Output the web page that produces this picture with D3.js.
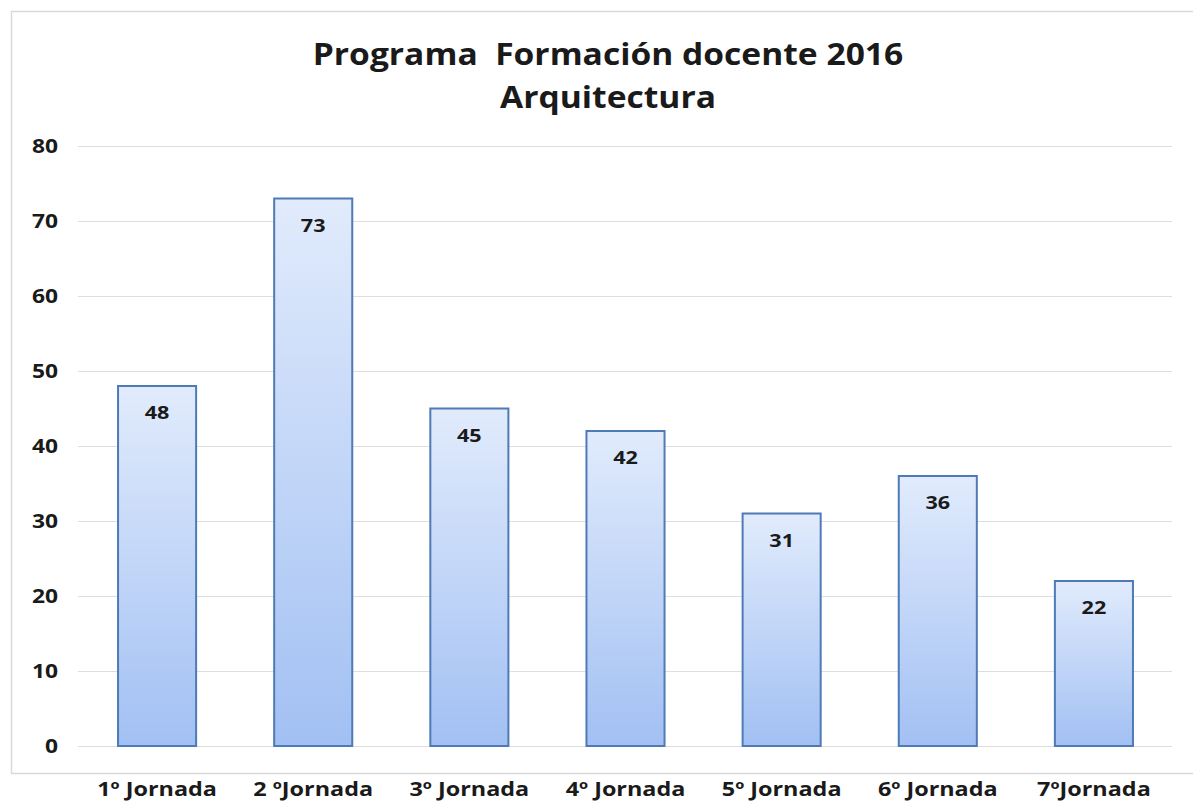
<!DOCTYPE html>
<html>
<head>
<meta charset="utf-8">
<script src="https://cdn.jsdelivr.net/npm/d3@7"></script>
<style>
  body { margin: 0; background: #fff; }
  text { font-family: "Open Sans", "DejaVu Sans", sans-serif; font-weight: bold; fill: #1a1a1a; white-space: pre; }
</style>
</head>
<body>
<div id="chart"></div>
<script>
// Programa Formación docente 2016 - Arquitectura

var categories = ["1º Jornada", "2 ºJornada", "3º Jornada", "4º Jornada", "5º Jornada", "6º Jornada", "7ºJornada"];
var values = [48, 73, 45, 42, 31, 36, 22];
var yTicks = [0, 10, 20, 30, 40, 50, 60, 70, 80];
var titleLines = ["Programa  Formación docente 2016", "Arquitectura"];

var WIDTH = 1193;
var HEIGHT = 802;

var LEFT = 79;
var RIGHT = 1172;
var TOP = 146;
var BOTTOM = 746;

// the source picture is a bit stretched sideways
var STRETCH = "scale(1.2,1)";

var svg = d3.select("#chart").append("svg")
    .attr("width", WIDTH)
    .attr("height", HEIGHT);

var defs = svg.append("defs");
var grad = defs.append("linearGradient")
    .attr("id", "barfill")
    .attr("x1", 0).attr("y1", 0)
    .attr("x2", 0).attr("y2", 1);
grad.append("stop").attr("offset", "0%").attr("stop-color", "#e1ebfc");
grad.append("stop").attr("offset", "100%").attr("stop-color", "#a2c0f3");

// outer frame (right edge runs off the picture)
svg.append("path")
    .attr("d", "M" + (WIDTH + 5) + ",11.5 H11.5 V773.5 H" + (WIDTH + 5))
    .attr("fill", "none")
    .attr("stroke", "#d9d9d9")
    .attr("stroke-width", 1.5);

var x = d3.scaleBand()
    .domain(categories)
    .range([LEFT, RIGHT])
    .paddingInner(0.5)
    .paddingOuter(0.25);

var y = d3.scaleLinear()
    .domain([0, 80])
    .range([BOTTOM, TOP]);

// gridlines
svg.append("g")
    .selectAll("line")
    .data(yTicks)
    .enter()
    .append("line")
    .attr("x1", LEFT - 1)
    .attr("x2", RIGHT)
    .attr("y1", function(d) { return Math.round(y(d)) + 0.5; })
    .attr("y2", function(d) { return Math.round(y(d)) + 0.5; })
    .attr("stroke", "#dedede")
    .attr("stroke-width", 1.2);

// y axis labels
var yAxis = d3.axisLeft(y)
    .tickValues(yTicks)
    .tickSize(0)
    .tickPadding(0);

var yg = svg.append("g")
    .attr("transform", "translate(58,0)")
    .call(yAxis);
yg.select(".domain").remove();
yg.selectAll("text")
    .attr("font-size", 19)
    .attr("font-family", null)
    .attr("fill", "#1a1a1a")
    .attr("transform", STRETCH);

// bars
var bars = svg.append("g")
    .selectAll("g")
    .data(values)
    .enter()
    .append("g");

bars.append("rect")
    .attr("x", function(d, i) { return x(categories[i]); })
    .attr("y", function(d) { return y(d); })
    .attr("width", x.bandwidth())
    .attr("height", function(d) { return BOTTOM - y(d); })
    .attr("fill", "url(#barfill)")
    .attr("stroke", "#4e7bb6")
    .attr("stroke-width", 2);

bars.append("text")
    .attr("transform", function(d, i) {
        var cx = x(categories[i]) + x.bandwidth() / 2;
        return "translate(" + cx + "," + (y(d) + 33) + ") " + STRETCH;
    })
    .attr("text-anchor", "middle")
    .attr("font-size", 18)
    .text(function(d) { return d; });

// x axis labels
var xAxis = d3.axisBottom(x)
    .tickSize(0)
    .tickPadding(0);

var xg = svg.append("g")
    .attr("transform", "translate(0,782)")
    .call(xAxis);
xg.select(".domain").remove();
xg.selectAll("text")
    .attr("font-size", 19.5)
    .attr("font-family", null)
    .attr("fill", "#1a1a1a")
    .attr("transform", STRETCH);

// title
svg.append("g")
    .selectAll("text")
    .data(titleLines)
    .enter()
    .append("text")
    .attr("transform", function(d, i) {
        return "translate(608," + (65 + i * 43) + ") scale(1.12,1)";
    })
    .attr("text-anchor", "middle")
    .attr("font-size", 30)
    .text(function(d) { return d; });
</script>
</body>
</html>
